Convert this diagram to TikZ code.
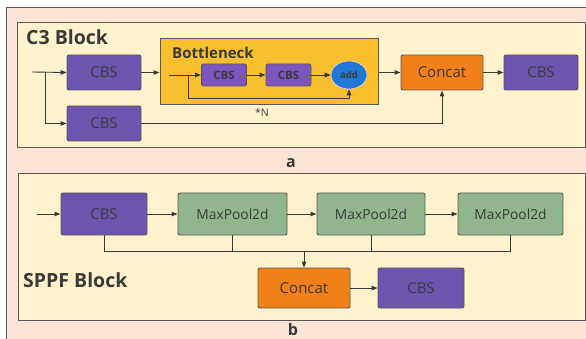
\documentclass[tikz,border=0pt]{standalone}
\usepackage{fontspec}
\setmainfont{Open Sans}
\usetikzlibrary{arrows.meta,shapes.geometric}
\definecolor{peach}{HTML}{FCE4D6}
\definecolor{cream}{HTML}{FFF2CC}
\definecolor{edge}{HTML}{595959}
\definecolor{ink}{HTML}{3A3A3A}
\definecolor{cbsfill}{HTML}{6C55AE}
\definecolor{cbslight}{HTML}{7D55BE}
\definecolor{poolfill}{HTML}{93B58E}
\definecolor{catfill}{HTML}{F28019}
\definecolor{bneck}{HTML}{F8BF2F}
\definecolor{addfill}{HTML}{1F78D6}
\tikzset{
  block/.style={draw=edge, line width=0.9pt, rounded corners=2pt, text=ink, inner sep=0pt},
  cbs/.style={block, fill=cbsfill, minimum width=74pt, minimum height=35pt, font=\fontsize{15}{17}\selectfont},
  cbssmall/.style={block, fill=cbslight, minimum width=45pt, minimum height=22pt, font=\bfseries\fontsize{11.5}{13}\selectfont},
  pool/.style={block, fill=poolfill, font=\fontsize{13.8}{15}\selectfont},
  cat/.style={block, fill=catfill, font=\fontsize{15}{17}\selectfont},
  wire/.style={draw=ink, line width=0.9pt},
  arr/.style={wire, -{Triangle[length=6pt,width=4.5pt]}},
  panel/.style={draw=edge, line width=1pt, fill=cream},
  title/.style={anchor=base west, text=ink, font=\bfseries\fontsize{19.5}{21}\selectfont, inner sep=0pt},
}
\begin{document}
\begin{tikzpicture}[x=1pt,y=-1pt]
\useasboundingbox (0,0) rectangle (586,339);
\fill[white] (0,0) rectangle (586,339);
\draw[draw=edge, line width=1pt, fill=peach] (6,8) rectangle (600,352);

% ---- panel a: C3 block ----
\draw[panel] (17,23) rectangle (585,148);
\node[title] (c3t) at (26,45) {C3 Block};

\coordinate (ain) at (32,72);
\coordinate (asplit) at (45,72);
\node[cbs] (cbs1) at (104,72.5) {CBS};
\node[cbs] (cbs2) at (104,123.5) {CBS};

\node[draw=edge, line width=1pt, fill=bneck, minimum width=218pt, minimum height=66pt, inner sep=0pt] (bn) at (269,72) {};
\node[anchor=base west, text=ink, font=\bfseries\fontsize{15}{17}\selectfont, inner sep=0pt] (bnt) at (172,59) {Bottleneck};
\coordinate (bin) at (169,75);
\coordinate (bsplit) at (188,75);
\node[cbssmall] (sc1) at (224,75) {CBS};
\node[cbssmall] (sc2) at (288.5,75) {CBS};
\node[ellipse, draw=pink!70!white, line width=0.6pt, fill=addfill, minimum width=36pt, minimum height=28pt, inner sep=0pt, text=ink, font=\bfseries\fontsize{9.5}{11}\selectfont] (add) at (349,75) {add};
\node[text=ink, font=\fontsize{10.5}{12}\selectfont, inner sep=0pt] (nrep) at (262,113) {*N};

\node[cat, minimum width=82pt, minimum height=35pt] (cat1) at (442,72.5) {Concat};
\node[cbs] (cbs3) at (541,72.5) {CBS};

\draw[arr] (ain) -- (cbs1.west);
\draw[arr] (asplit) |- (cbs2.west);
\draw[arr] (cbs1.east) -- (cbs1.east -| bn.west);
\draw[wire] (bin) -- (bsplit);
\draw[arr] (bsplit) -- (sc1.west);
\draw[arr] (sc1.east) -- (sc2.west);
\draw[arr] (sc2.east) -- (add.west);
\draw[arr] (bsplit) |- (349,98) -- (add.south);
\draw[arr] (bn.east |- cat1.west) -- (cat1.west);
\draw[arr] (cat1.east) -- (cbs3.west);
\draw[arr] (cbs2.east) -| (cat1.south);

\node[text=ink, font=\bfseries\fontsize{16}{18}\selectfont, anchor=base, inner sep=0pt] (la) at (291,168) {a};

% ---- panel b: SPPF block ----
\draw[panel] (18,174) rectangle (585,320);
\node[title] (sppft) at (23,287) {SPPF Block};

\coordinate (bin2) at (37,214);
\node[cbs, minimum width=86pt, minimum height=42pt] (s0) at (104,214) {CBS};
\node[pool, minimum width=109pt, minimum height=42pt] (p1) at (232.5,214) {MaxPool2d};
\node[pool, minimum width=108pt, minimum height=42pt] (p2) at (371,214) {MaxPool2d};
\node[pool, minimum width=105pt, minimum height=42pt] (p3) at (510.5,214) {MaxPool2d};
\node[cat, minimum width=92pt, minimum height=40pt] (cat2) at (304,288) {Concat};
\node[cbs, minimum width=86pt, minimum height=40pt] (s5) at (421,288) {CBS};

\coordinate (bus) at (0,251);
\draw[arr] (bin2) -- (s0.west);
\draw[arr] (s0.east) -- (p1.west);
\draw[arr] (p1.east) -- (p2.west);
\draw[arr] (p2.east) -- (p3.west);
\draw[wire] (s0.south) -- (s0.south |- bus) -- (p3.south |- bus) -- (p3.south);
\draw[wire] (p1.south) -- (p1.south |- bus);
\draw[wire] (p2.south) -- (p2.south |- bus);
\draw[arr] (cat2.north |- bus) -- (cat2.north);
\draw[arr] (cat2.east) -- (s5.west);

\node[text=ink, font=\bfseries\fontsize{16}{18}\selectfont, anchor=base, inner sep=0pt] (lb) at (293,335) {b};
\end{tikzpicture}
\end{document}
